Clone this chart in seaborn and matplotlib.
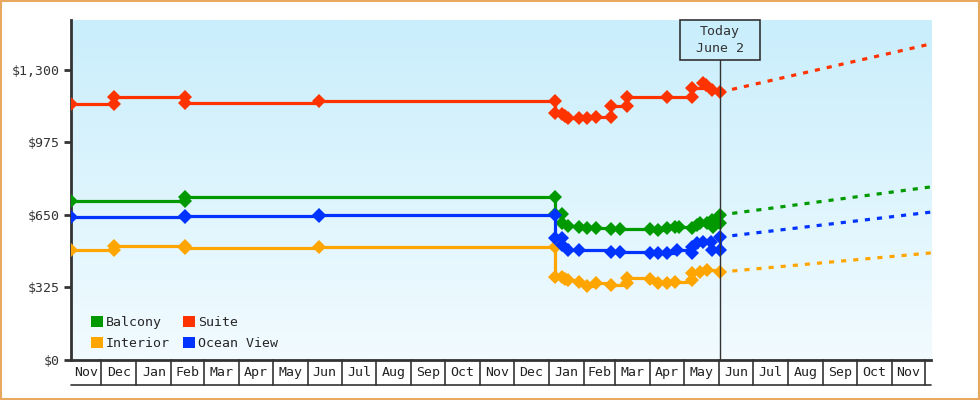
import numpy as np
import pandas as pd
import matplotlib
matplotlib.use("Agg")
import matplotlib.pyplot as plt
import matplotlib.dates as mdates
import matplotlib.transforms as mtransforms
from matplotlib.patches import Patch, Rectangle
from matplotlib.colors import LinearSegmentedColormap
import seaborn as sns

sns.set_style("white")
plt.rcParams['font.family'] = ['DejaVu Sans Mono', 'DejaVu Sans']

# ---- data ----
start = pd.Timestamp("2023-11-04")
end = pd.Timestamp("2025-12-06")
today = pd.Timestamp("2025-06-02")

suite_dates = ["2023-11-04", "2023-12-12", "2023-12-12", "2024-02-13", "2024-02-13", "2024-06-11",
               "2025-01-06", "2025-01-06", "2025-01-13", "2025-01-15", "2025-01-18", "2025-01-28",
               "2025-02-04", "2025-02-12", "2025-02-25", "2025-02-25", "2025-03-11", "2025-03-11",
               "2025-04-16", "2025-05-08", "2025-05-08", "2025-05-18", "2025-05-20", "2025-05-26",
               "2025-06-02"]
suite_prices = [1148, 1148, 1179, 1179, 1152, 1161,
                1161, 1107, 1103, 1094, 1085, 1085,
                1085, 1090, 1090, 1139, 1139, 1179,
                1179, 1179, 1219, 1242, 1233, 1210,
                1201]

balcony_dates = ["2023-11-04", "2024-02-13", "2024-02-13", "2025-01-06", "2025-01-06", "2025-01-13",
                 "2025-01-13", "2025-01-18", "2025-01-28", "2025-02-04", "2025-02-12", "2025-02-25",
                 "2025-03-05", "2025-04-01", "2025-04-08", "2025-04-16", "2025-04-23", "2025-04-26",
                 "2025-05-08", "2025-05-12", "2025-05-15", "2025-05-21", "2025-05-26", "2025-05-27",
                 "2025-06-02", "2025-06-02"]
balcony_prices = [713, 713, 731, 731, 655, 655,
                  614, 601, 596, 592, 592, 587,
                  587, 587, 583, 592, 596, 596,
                  592, 605, 614, 614, 628, 596,
                  614, 650]

ocean_dates = ["2023-11-04", "2024-02-13", "2024-02-13", "2024-06-11", "2024-06-11", "2025-01-06",
               "2025-01-06", "2025-01-13", "2025-01-13", "2025-01-18", "2025-01-28", "2025-02-25",
               "2025-03-05", "2025-04-01", "2025-04-08", "2025-04-16", "2025-04-25", "2025-05-08",
               "2025-05-08", "2025-05-12", "2025-05-18", "2025-05-25", "2025-05-26", "2025-06-02",
               "2025-06-02"]
ocean_prices = [641, 641, 645, 645, 650, 650,
                547, 547, 516, 493, 493, 484,
                484, 480, 480, 480, 493, 480,
                507, 525, 529, 529, 493, 493,
                551]

interior_dates = ["2023-11-04", "2023-12-12", "2023-12-12", "2024-02-13", "2024-02-13", "2024-06-11",
                  "2025-01-06", "2025-01-06", "2025-01-13", "2025-01-15", "2025-01-18", "2025-01-28",
                  "2025-02-04", "2025-02-12", "2025-02-25", "2025-03-11", "2025-03-11", "2025-04-01",
                  "2025-04-08", "2025-04-16", "2025-04-23", "2025-05-08", "2025-05-08", "2025-05-15",
                  "2025-05-21", "2025-06-02"]
interior_prices = [493, 493, 511, 511, 502, 507,
                   507, 372, 372, 363, 359, 350,
                   332, 345, 336, 345, 368, 363,
                   345, 345, 350, 359, 390, 394,
                   403, 394]

# forecast: today -> end of range
forecast_dates = ["2025-06-02", "2025-12-06"]
suite_forecast = [1201, 1417]
balcony_forecast = [650, 776]
ocean_forecast = [551, 663]
interior_forecast = [394, 480]

series = [
    ("Balcony", "#009900", balcony_dates, balcony_prices, balcony_forecast),
    ("Interior", "#ffa500", interior_dates, interior_prices, interior_forecast),
    ("Suite", "#ff3300", suite_dates, suite_prices, suite_forecast),
    ("Ocean View", "#0033ff", ocean_dates, ocean_prices, ocean_forecast),
]

ytick_vals = [0, 325, 650, 975, 1300]
ytick_labels = ["$0", "$325", "$650", "$975", "$1,300"]

dark = "#333333"

fig = plt.figure(figsize=(9.8, 4.0), dpi=100)
ax = fig.add_axes([71 / 980, 40 / 400, 860 / 980, 340 / 400])

# gradient background
grad = np.linspace(0, 1, 256).reshape(-1, 1)
bg_cmap = LinearSegmentedColormap.from_list("bg", ["#f2fbff", "#c9eefc"])
ax.imshow(grad, extent=[0, 1, 0, 1], transform=ax.transAxes, aspect="auto",
          cmap=bg_cmap, origin="lower", zorder=0)

for name, color, dts, prices, fc in series:
    df = pd.DataFrame({"date": pd.to_datetime(dts), "price": prices})
    sns.lineplot(data=df, x="date", y="price", ax=ax, color=color, estimator=None,
                 sort=False, drawstyle="steps-post", lw=2.3, marker="D", markersize=7.5,
                 markeredgewidth=0, zorder=3)
    fdf = pd.DataFrame({"date": pd.to_datetime(forecast_dates), "price": fc})
    sns.lineplot(data=fdf, x="date", y="price", ax=ax, color=color, estimator=None,
                 sort=False, lw=2.3, dashes=False, zorder=3)
    ax.lines[-1].set_dashes((1.6, 2.2))

ax.set_xlim(start, end)
ax.set_ylim(0, 1524)
ax.set_xlabel("")
ax.set_ylabel("")
ax.set_xticks([])
ax.set_yticks(ytick_vals)
ax.set_yticklabels(ytick_labels, fontsize=9.5, color=dark)
ax.tick_params(axis="y", length=5, width=2, color=dark, direction="out", pad=3, left=True)

for side in ["top", "right"]:
    ax.spines[side].set_visible(False)
for side in ["left", "bottom"]:
    ax.spines[side].set_color(dark)
    ax.spines[side].set_linewidth(2)

# month boxes under the axis
trans = mtransforms.blended_transform_factory(ax.transData, ax.transAxes)
box_h = 25 / 340
month_starts = pd.date_range(start, end, freq="MS")
bounds = [start] + list(month_starts) + [end]
for m in month_starts:
    ax.plot([m, m], [0, -box_h], transform=trans, color=dark, lw=1.2, clip_on=False)
for a, b in zip(bounds[:-1], bounds[1:]):
    if (b - a).days >= 20:
        mid = a + (b - a) / 2
        ax.text(mid, -box_h / 2, a.strftime("%b"), transform=trans, ha="center", va="center",
                fontsize=9.5, color="#222222")
ax.plot([start, end], [-box_h, -box_h], transform=trans, color=dark, lw=1.2, clip_on=False)

# today marker
box_top = 1.0
box_bot = 1 - 40 / 340
half_w = pd.Timedelta(days=40 / 1.127)
ax.axvline(today, ymin=0, ymax=box_bot, color=dark, lw=1, zorder=4)
ax.add_patch(Rectangle((mdates.date2num(today - half_w), box_bot),
                       mdates.date2num(today + half_w) - mdates.date2num(today - half_w),
                       box_top - box_bot, transform=trans, fill=False, ec=dark, lw=1.2,
                       zorder=5, clip_on=False))
ax.text(today, (box_top + box_bot) / 2, "Today\nJune 2", transform=trans, ha="center",
        va="center", fontsize=9.5, color=dark, linespacing=1.4, zorder=5)

# legend
handles = [Patch(facecolor=c, edgecolor="none", label=n) for n, c, *_ in series]
ax.legend(handles=handles, ncol=2, frameon=False, loc="lower left",
          bbox_to_anchor=(0.01, -0.005), fontsize=9.5, handlelength=0.9, handleheight=0.9,
          handletextpad=0.2, columnspacing=1.0, labelspacing=0.6)

# outer border
fig.patches.append(Rectangle((0.001, 0.002), 0.998, 0.996, transform=fig.transFigure,
                             fill=False, ec="#e8a860", lw=1.5))

fig.savefig("out.png", dpi=100)
